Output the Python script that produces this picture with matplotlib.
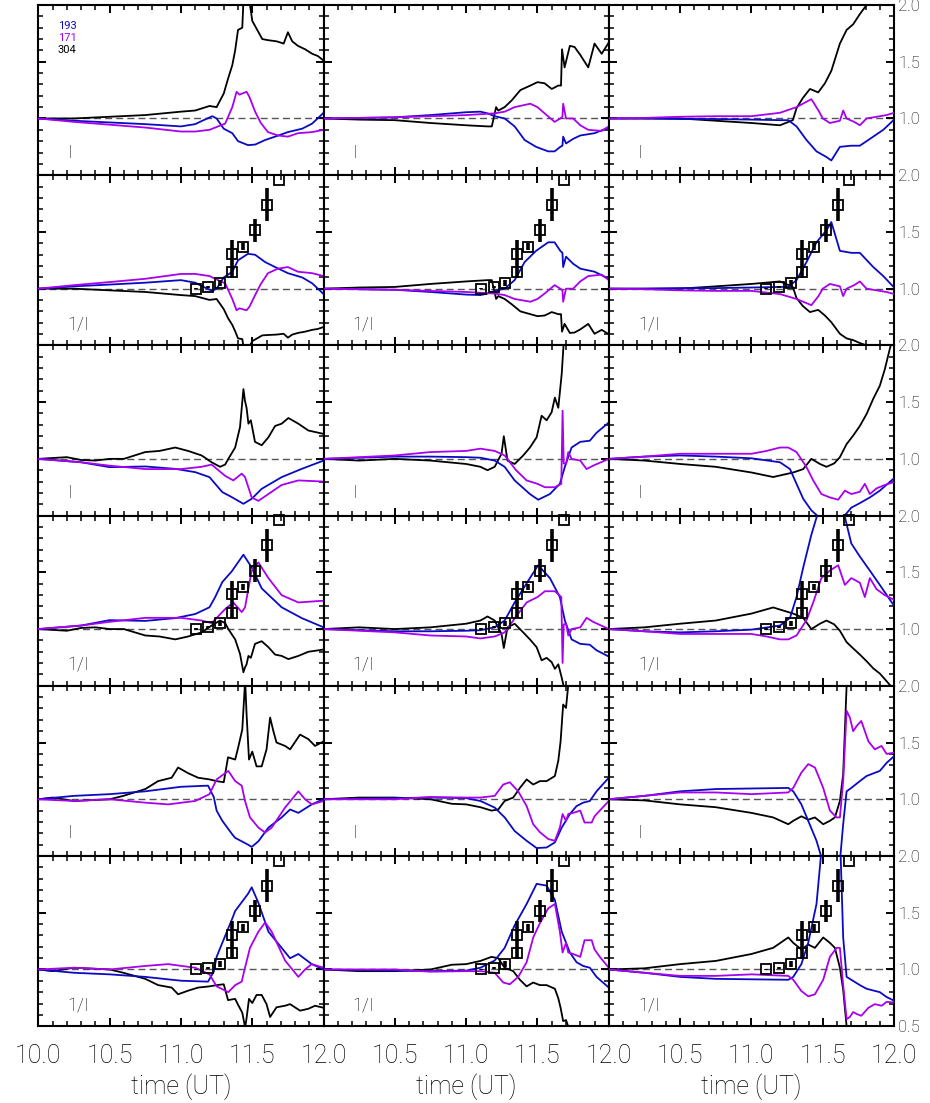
import matplotlib
matplotlib.use("Agg")
import matplotlib.pyplot as plt
import numpy as np

plt.rcParams['font.family'] = ['Roboto', 'DejaVu Sans']
plt.rcParams['font.weight'] = 'light'
plt.rcParams['axes.labelweight'] = 'light'

# ---------------- data (intensity I, normalised) ----------------
# panel A : rows 1/2, column 1
a304_t = [10.0,10.25,10.5,10.75,11.0,11.1,11.2,11.25,11.3,11.33,11.36,11.38,11.40,11.43,11.44,11.47,11.49,11.5,11.57,11.61,11.67,11.72,11.75,11.78,11.82,11.87,11.92,11.96,12.0]
a304_v = [1.0,1.0,1.015,1.03,1.06,1.07,1.11,1.10,1.22,1.35,1.47,1.60,1.78,1.80,2.1,2.1,1.95,1.86,1.70,1.69,1.68,1.66,1.76,1.68,1.64,1.61,1.57,1.55,1.51]
a193_t = [10.0,10.25,10.5,10.75,11.0,11.1,11.15,11.22,11.25,11.3,11.36,11.4,11.47,11.52,11.59,11.66,11.75,11.85,11.92,12.0]
a193_v = [1.0,0.98,0.965,0.95,0.93,0.95,0.98,1.02,1.0,0.91,0.87,0.80,0.765,0.77,0.81,0.84,0.88,0.91,0.955,1.05]
a171_t = [10.0,10.25,10.5,10.75,11.0,11.1,11.2,11.26,11.31,11.36,11.39,11.41,11.44,11.46,11.48,11.52,11.56,11.61,11.68,11.75,11.82,11.92,12.0]
a171_v = [1.0,0.97,0.945,0.92,0.885,0.885,0.90,0.93,0.955,1.10,1.235,1.21,1.225,1.235,1.19,1.06,0.96,0.88,0.85,0.84,0.87,0.88,0.90]

# panel B : rows 1/2, column 2
b304_t = [10.0,10.25,10.5,10.75,11.0,11.15,11.18,11.21,11.225,11.27,11.32,11.38,11.45,11.5,11.55,11.6,11.646,11.665,11.672,11.69,11.727,11.76,11.8,11.856,11.9,11.95,12.0]
b304_v = [1.0,0.99,0.985,0.96,0.94,0.93,0.93,1.10,1.07,1.10,1.16,1.25,1.29,1.32,1.31,1.26,1.29,1.29,1.61,1.45,1.64,1.63,1.56,1.45,1.66,1.57,1.67]
b193_t = [10.0,10.25,10.5,10.75,11.0,11.1,11.15,11.2,11.27,11.34,11.41,11.49,11.575,11.62,11.66,11.675,11.68,11.70,11.75,11.8,11.9,12.0]
b193_v = [1.0,1.005,1.01,1.03,1.055,1.06,1.045,1.02,1.0,0.93,0.81,0.75,0.71,0.71,0.75,0.76,0.84,0.78,0.82,0.85,0.87,0.92]
b171_t = [10.0,10.25,10.5,10.75,11.0,11.2,11.27,11.34,11.45,11.5,11.55,11.62,11.66,11.675,11.68,11.70,11.75,11.8,11.856,11.95,12.0]
b171_v = [1.0,1.005,1.01,1.02,1.03,1.045,1.06,1.10,1.13,1.10,1.045,0.97,1.0,1.015,1.13,1.0,1.0,0.94,0.90,0.89,0.93]

# panel C : rows 1/2, column 3
c304_t = [10.0,10.25,10.5,10.75,11.0,11.2,11.29,11.316,11.36,11.41,11.468,11.515,11.56,11.62,11.667,11.713,11.76,11.807,11.84,11.9,12.0]
c304_v = [1.0,1.0,1.0,0.98,0.96,0.94,0.985,1.09,1.18,1.26,1.23,1.31,1.42,1.66,1.78,1.83,1.92,2.0,2.05,2.15,2.25]
c193_t = [10.0,10.25,10.5,10.75,11.0,11.2,11.258,11.316,11.386,11.456,11.526,11.56,11.62,11.70,11.76,11.854,11.924,12.0]
c193_v = [1.0,1.0,0.995,0.995,0.99,0.985,0.985,0.93,0.81,0.71,0.66,0.63,0.75,0.76,0.76,0.84,0.90,0.99]
c171_t = [10.0,10.25,10.5,10.75,11.0,11.2,11.316,11.42,11.47,11.5,11.55,11.62,11.643,11.667,11.72,11.76,11.807,11.877,11.947,12.0]
c171_v = [1.0,1.005,1.015,1.02,1.02,1.05,1.10,1.17,1.07,1.0,0.96,0.98,1.07,1.0,0.97,0.94,1.0,1.015,1.03,1.05]

# panel D : rows 3/4, column 1
d304_t = [10.0,10.2,10.3,10.4,10.5,10.6,10.75,10.85,10.96,11.05,11.145,11.215,11.274,11.31,11.332,11.38,11.414,11.438,11.449,11.46,11.473,11.49,11.519,11.566,11.613,11.66,11.706,11.753,11.823,11.893,12.0]
d304_v = [1.0,1.015,0.99,0.985,1.0,1.0,1.06,1.07,1.10,1.07,1.03,0.97,0.93,0.95,1.0,1.10,1.28,1.615,1.51,1.45,1.31,1.34,1.15,1.12,1.19,1.29,1.31,1.36,1.31,1.25,1.22]
d193_t = [10.0,10.3,10.5,10.75,10.96,11.1,11.2,11.24,11.29,11.356,11.438,11.496,11.566,11.706,11.847,12.0]
d193_v = [1.0,0.97,0.927,0.933,0.912,0.883,0.839,0.78,0.707,0.663,0.604,0.648,0.736,0.839,0.912,0.985]
d171_t = [10.0,10.3,10.5,10.75,11.0,11.145,11.215,11.31,11.367,11.426,11.449,11.496,11.543,11.613,11.706,11.823,12.0]
d171_v = [1.0,0.97,0.94,0.91,0.91,0.93,0.95,0.85,0.81,0.87,0.84,0.66,0.63,0.69,0.77,0.81,0.80]

# panel E : rows 3/4, column 2
e304_t = [10.0,10.25,10.5,10.75,11.0,11.1,11.15,11.2,11.248,11.264,11.29,11.34,11.40,11.447,11.494,11.529,11.564,11.599,11.622,11.646,11.67,11.685,11.70,11.75,12.0]
e304_v = [1.0,0.985,1.0,0.985,0.955,0.93,0.90,0.93,1.045,1.20,0.985,0.955,1.03,1.10,1.19,1.38,1.34,1.41,1.54,1.45,1.75,2.05,2.3,2.4,2.5]
e193_t = [10.0,10.25,10.5,10.75,11.0,11.1,11.2,11.27,11.34,11.447,11.505,11.587,11.657,11.692,11.739,11.80,11.867,11.914,12.0]
e193_v = [1.0,1.01,1.02,1.02,1.015,1.01,0.985,0.93,0.81,0.69,0.64,0.69,0.78,0.93,1.10,1.15,1.16,1.23,1.32]
e171_t = [10.0,10.25,10.5,10.75,11.0,11.1,11.2,11.27,11.35,11.424,11.50,11.552,11.622,11.667,11.676,11.684,11.70,11.716,11.739,11.80,11.844,11.89,12.0]
e171_v = [1.0,1.015,1.03,1.06,1.07,1.09,1.07,1.03,0.90,0.81,0.78,0.75,0.75,0.78,1.425,0.96,0.955,1.06,1.0,0.985,0.91,0.94,1.0]

# panel F : rows 3/4, column 3
f304_t = [10.0,10.25,10.5,10.75,11.0,11.152,11.293,11.363,11.42,11.48,11.526,11.58,11.62,11.667,11.713,11.76,11.807,11.854,11.90,11.935,11.97,12.0]
f304_v = [1.0,0.985,0.955,0.93,0.88,0.84,0.88,0.91,1.0,0.955,0.93,0.96,1.015,1.13,1.205,1.29,1.395,1.53,1.645,1.79,1.97,2.1]
f193_t = [10.0,10.25,10.5,10.75,11.0,11.2,11.27,11.316,11.363,11.42,11.47,11.55,11.62,11.66,11.70,11.76,11.83,11.90,12.0]
f193_v = [1.0,1.02,1.03,1.02,1.005,0.97,0.91,0.78,0.648,0.546,0.49,0.42,0.45,0.51,0.57,0.61,0.66,0.72,0.83]
f171_t = [10.0,10.25,10.5,10.75,11.0,11.106,11.2,11.258,11.316,11.386,11.433,11.49,11.55,11.608,11.655,11.70,11.76,11.795,11.83,11.877,11.935,12.0]
f171_v = [1.0,1.02,1.045,1.045,1.045,1.07,1.10,1.10,1.06,0.927,0.81,0.69,0.66,0.64,0.72,0.69,0.71,0.78,0.69,0.74,0.77,0.795]

# panel G : rows 5/6, column 1
g304_t = [10.0,10.10,10.25,10.5,10.596,10.75,10.84,10.935,10.98,11.05,11.12,11.20,11.25,11.30,11.33,11.38,11.40,11.43,11.45,11.46,11.477,11.50,11.53,11.566,11.60,11.625,11.648,11.67,11.73,11.765,11.835,11.893,11.94,12.0]
g304_v = [1.0,1.015,0.985,1.0,1.03,1.09,1.16,1.19,1.28,1.23,1.19,1.175,1.16,1.15,1.37,1.35,1.45,1.615,2.05,1.75,1.35,1.42,1.29,1.29,1.44,1.72,1.60,1.50,1.47,1.44,1.57,1.53,1.47,1.51]
g193_t = [10.0,10.25,10.5,10.75,11.0,11.19,11.23,11.25,11.29,11.36,11.38,11.47,11.496,11.543,11.613,11.706,11.765,11.823,11.917,12.0]
g193_v = [1.0,1.03,1.045,1.07,1.11,1.12,1.02,0.90,0.81,0.69,0.66,0.60,0.58,0.63,0.75,0.84,0.91,0.88,0.955,1.0]
g171_t = [10.0,10.25,10.5,10.75,10.91,11.10,11.20,11.25,11.332,11.38,11.426,11.449,11.484,11.543,11.59,11.636,11.73,11.823,11.87,11.917,12.0]
g171_v = [1.0,0.985,1.0,0.97,0.955,0.985,1.045,1.175,1.25,1.16,1.12,0.985,0.84,0.75,0.707,0.75,0.927,1.07,1.0,0.955,0.985]

# panel H : rows 5/6, column 2
h304_t = [10.0,10.25,10.5,10.75,10.9,11.0,11.10,11.178,11.225,11.27,11.33,11.377,11.424,11.47,11.517,11.564,11.622,11.646,11.662,11.68,11.70,11.716,11.75,12.0]
h304_v = [1.0,1.015,1.015,1.0,0.96,0.955,0.93,0.90,0.91,0.985,1.015,1.10,1.175,1.13,1.16,1.16,1.205,1.34,1.51,1.835,1.805,2.01,2.3,2.5]
h193_t = [10.0,10.5,10.75,11.0,11.10,11.20,11.27,11.34,11.424,11.494,11.564,11.622,11.67,11.727,11.774,11.82,11.867,11.914,12.0]
h193_v = [1.0,1.01,1.015,1.01,0.985,0.927,0.84,0.72,0.634,0.57,0.575,0.62,0.75,0.87,0.94,0.97,0.985,1.07,1.19]
h171_t = [10.0,10.5,10.75,11.0,11.10,11.20,11.26,11.306,11.365,11.424,11.47,11.517,11.575,11.622,11.657,11.676,11.70,11.716,11.75,11.80,11.83,11.88,11.90,11.937,12.0]
h171_v = [1.0,1.0,1.02,1.015,1.015,1.03,1.13,1.15,1.07,0.94,0.78,0.71,0.65,0.634,0.75,0.87,0.81,0.87,0.88,0.90,0.795,0.795,0.85,0.90,0.985]

# panel I : rows 5/6, column 3
i304_t = [10.0,10.25,10.5,10.75,11.0,11.152,11.258,11.293,11.35,11.398,11.445,11.503,11.55,11.585,11.62,11.643,11.667,11.70,12.0]
i304_v = [1.0,0.99,0.955,0.93,0.88,0.84,0.78,0.81,0.85,0.82,0.84,0.78,0.81,0.84,0.985,1.22,2.0,2.6,3.0]
i193_t = [10.0,10.25,10.5,10.75,11.0,11.258,11.293,11.35,11.398,11.456,11.49,11.55,11.62,11.643,11.667,11.70,11.76,11.807,11.90,11.947,12.0]
i193_v = [1.0,1.03,1.07,1.09,1.095,1.10,1.07,0.955,0.81,0.634,0.49,0.40,0.45,0.78,1.07,1.10,1.16,1.205,1.25,1.32,1.38]
i171_t = [10.0,10.25,10.5,10.75,11.0,11.258,11.293,11.35,11.398,11.445,11.503,11.55,11.597,11.62,11.643,11.667,11.69,11.713,11.737,11.77,11.82,11.865,11.912,11.947,12.0]
i171_v = [1.0,1.03,1.06,1.06,1.045,1.06,1.10,1.235,1.31,1.28,1.10,0.90,0.84,0.84,1.16,1.78,1.72,1.60,1.645,1.69,1.51,1.44,1.47,1.40,1.41]

# measured points shown in every 1/I panel
box_t = [11.105, 11.193, 11.275, 11.355, 11.355, 11.437, 11.52, 11.605, 11.685]
box_v = [1.0, 1.015, 1.05, 1.145, 1.305, 1.37, 1.515, 1.74, 1.96]
box_err = [0.005, 0.01, 0.025, 0.05, 0.12, 0.03, 0.10, 0.145, 0.0]

legend_labels = ['193', '171', '304']
x_ticks = [10.0, 10.5, 11.0, 11.5, 12.0]
y_ticks = [0.5, 1.0, 1.5, 2.0]

panels = [
    (a193_t, a193_v, a171_t, a171_v, a304_t, a304_v),
    (b193_t, b193_v, b171_t, b171_v, b304_t, b304_v),
    (c193_t, c193_v, c171_t, c171_v, c304_t, c304_v),
    (d193_t, d193_v, d171_t, d171_v, d304_t, d304_v),
    (e193_t, e193_v, e171_t, e171_v, e304_t, e304_v),
    (f193_t, f193_v, f171_t, f171_v, f304_t, f304_v),
    (g193_t, g193_v, g171_t, g171_v, g304_t, g304_v),
    (h193_t, h193_v, h171_t, h171_v, h304_t, h304_v),
    (i193_t, i193_v, i171_t, i171_v, i304_t, i304_v),
]

C193 = '#0a0ac4'
C171 = '#a800f0'
C304 = '#000000'

W, H = 930, 1103
fig = plt.figure(figsize=(W / 100, H / 100), dpi=100)

left_px = [38.3, 323.5, 608.8]
w_px = 285.3
top0 = 5.0
h_px = 170.2

axes = [[None] * 3 for _ in range(6)]
for r in range(6):
    for c in range(3):
        top = top0 + r * h_px
        ax = fig.add_axes([left_px[c] / W, 1 - (top + h_px) / H, w_px / W, h_px / H])
        axes[r][c] = ax
        ax.set_xlim(10.0, 12.0)
        ax.set_ylim(0.5, 2.0)
        ax.set_xticks(x_ticks)
        ax.set_xticks(np.arange(10.0, 12.0001, 0.1), minor=True)
        ax.set_yticks(y_ticks)
        ax.set_yticks(np.arange(0.5, 2.0001, 0.1), minor=True)
        ax.tick_params(which='both', direction='in', top=True, right=True,
                       left=True, bottom=True, labelleft=False,
                       labelright=(c == 2), labelbottom=(r == 5),
                       colors='black')
        ax.tick_params(which='major', length=6, width=1.4)
        ax.tick_params(which='minor', length=3.5, width=1.1)
        ax.tick_params(axis='y', which='major', labelsize=12, pad=3)
        ax.tick_params(axis='x', which='major', labelsize=18, pad=13)
        for s in ax.spines.values():
            s.set_linewidth(1.5)
        if c == 2:
            if r == 5:
                ax.set_yticklabels(['0.5', '1.0', '1.5', '2.0'])
            else:
                ax.set_yticklabels(['', '1.0', '1.5', '2.0'])
        if r == 5:
            if c == 0:
                ax.set_xticklabels(['10.0', '10.5', '11.0', '11.5', '12.0'])
            else:
                ax.set_xticklabels(['', '10.5', '11.0', '11.5', '12.0'])
            ax.set_xlabel('time (UT)', fontsize=18, fontweight='light', labelpad=4)
        ax.axhline(1.0, color='#555555', lw=1.0, ls=(0, (5, 3)), zorder=1)

for k, (t193, v193, t171, v171, t304, v304) in enumerate(panels):
    p, c = divmod(k, 3)
    axI = axes[2 * p][c]
    axR = axes[2 * p + 1][c]
    for t, v, col in ((t304, v304, C304), (t193, v193, C193), (t171, v171, C171)):
        t = np.asarray(t)
        v = np.asarray(v)
        axI.plot(t, v, color=col, lw=1.3, zorder=3)
        axR.plot(t, 1.0 / v, color=col, lw=1.3, zorder=3)
    axI.text(10.205, 0.70, 'I', fontsize=13, fontweight='light', ha='left', va='center')
    axR.text(10.205, 0.685, '1/I', fontsize=13, fontweight='light', ha='left', va='center')
    axR.errorbar(box_t, box_v, yerr=box_err, fmt='none', ecolor='black',
                 elinewidth=2.6, capsize=0, zorder=4, clip_on=False)
    axR.plot(box_t, box_v, ls='none', marker='s', ms=7.5, mfc='none',
             mec='black', mew=1.3, zorder=5, clip_on=False)

ax0 = axes[0][0]
for lab, col, y in zip(legend_labels, (C193, C171, C304), (1.817, 1.71, 1.60)):
    ax0.text(10.138, y, lab, color=col, fontsize=8, fontweight='normal',
             ha='left', va='center')

fig.savefig('out.png', dpi=100)
